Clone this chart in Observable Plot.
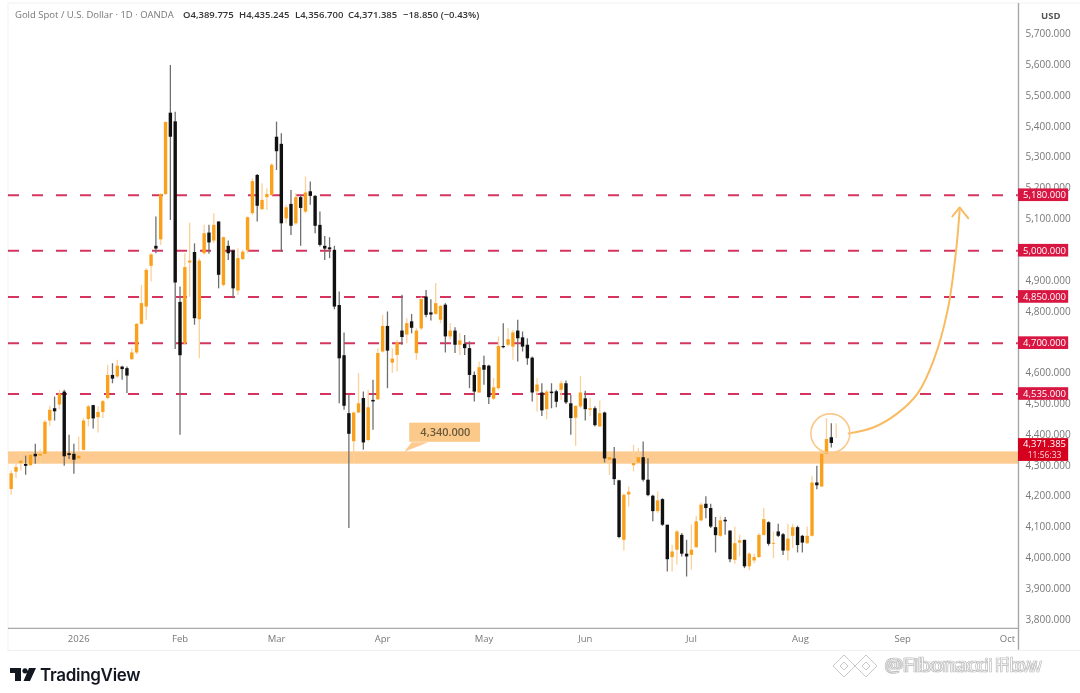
<!DOCTYPE html>
<html><head><meta charset="utf-8">
<script src="https://cdn.jsdelivr.net/npm/d3@7"></script>
<script src="https://cdn.jsdelivr.net/npm/@observablehq/plot@0.6"></script>
<style>
html,body{margin:0;padding:0;background:#fff;overflow:hidden}
#wrap{position:relative;width:1080px;height:693px;filter:blur(.55px)}
#wrap svg{display:block}
.hd{position:absolute;top:8px;font:9.5px/14px "Open Sans",sans-serif;white-space:nowrap;color:#333;font-weight:600}
.hd.g{color:#777;font-weight:400}
#logoT{position:absolute;left:40px;top:663px;font:600 17px/25px Inter,sans-serif;color:#131722;letter-spacing:-.3px}
.wm{position:absolute;left:884px;top:653px;font:20px/24px "Open Sans",sans-serif;color:#fff;-webkit-text-stroke:.7px #bbb;white-space:nowrap}
#logoI,#wmI{position:absolute}
</style></head><body>
<div id="wrap">
<div id="chart"></div>
<div class="hd g" style="left:15px">Gold Spot / U.S. Dollar · 1D · OANDA</div>
<div class="hd" style="left:183px">O4,389.775</div>
<div class="hd" style="left:239px">H4,435.245</div>
<div class="hd" style="left:295px">L4,356.700</div>
<div class="hd" style="left:348px">C4,371.385</div>
<div class="hd" style="left:403px">−18.850 (−0.43%)</div>
<svg id="logoI" style="left:10px;top:668px" width="26" height="14" viewBox="0 0 26 14"><path d="M0 0H11V13H5V5H0Z M15 5.5a2.6 2.6 0 1 1 0.01 0Z M19 0H26L20 13H13.5Z" fill="#131722"/></svg>
<div id="logoT">TradingView</div>
<svg id="wmI" style="left:830px;top:652px" width="52" height="34" viewBox="0 0 52 34"><g fill="#fff" stroke="#c8c8c8" stroke-width="1"><path d="M14 3 25 14 14 25 3 14Z"/><path d="M36 3 47 14 36 25 25 14Z"/><path d="M14 10 18 14 14 18 10 14Z"/><path d="M36 10 40 14 36 18 32 14Z"/></g></svg>
<div class="wm">@Fibonacci Flow</div>
<div class="wm" style="left:886px;letter-spacing:.2px">@Fibonacci Flow</div>
</div>
<script>
const opens=[4222,4278,4306,4303,4299,4336,4330,4336,4444,4484,
4496,4538,4338,4336,4321,4349,4449,4494,4455,4472,
4517,4592,4587,4619,4614,4643,4665,4758,4814,4946,
5011,5032,5179,5443,5415,4829,4695,4957,4991,4773,
4987,5054,5028,5090,4884,5011,4996,4866,4968,4996,
5117,5241,5130,5169,5176,5365,5342,5100,5147,5084,
5169,5122,5188,5173,5079,5011,5006,4998,4819,4656,
4468,4377,4470,4517,4381,4511,4513,4668,4751,4632,
4657,4736,4723,4766,4663,4743,4846,4795,4790,4771,
4820,4717,4736,4690,4693,4679,4592,4535,4624,4622,
4515,4549,4686,4690,4684,4736,4714,4690,4648,4539,
4535,4481,4538,4539,4544,4565,4500,4453,4490,4516,
4479,4484,4425,4470,4317,4321,4250,4057,4204,4299,
4308,4325,4252,4200,4150,4189,4106,4001,4025,4073,
4012,4008,4033,4120,4174,4160,4098,4070,4122,4087,
3992,4048,4057,3971,3990,4001,4073,4114,4044,4084,
4075,4022,4070,4098,4070,4046,4070,4243,4230,4336,
4389.775,4410];
const highs=[4282,4317,4344,4330,4344,4369,4351,4446,4492,4522,
4544,4544,4398,4369,4392,4452,4495,4495,4490,4511,
4625,4630,4641,4622,4619,4679,4760,4884,4938,4987,
5106,5182,5414,5598,5446,4879,4987,5086,5019,4971,
5079,5079,5117,5090,5041,5028,4998,5003,4998,5106,
5230,5244,5214,5198,5279,5414,5376,5144,5192,5182,
5176,5236,5220,5176,5122,5043,5039,5011,4863,4730,
4527,4473,4598,4538,4544,4576,4679,4787,4798,4679,
4706,4852,4776,4790,4744,4846,4868,4838,4890,4819,
4825,4760,4747,4728,4722,4701,4603,4636,4654,4625,
4582,4717,4760,4744,4738,4771,4733,4711,4652,4581,
4565,4544,4565,4544,4574,4574,4527,4492,4589,4541,
4517,4490,4509,4473,4344,4358,4252,4208,4230,4365,
4354,4376,4322,4203,4214,4192,4106,4041,4090,4079,
4057,4106,4135,4178,4198,4174,4131,4133,4131,4087,
4100,4073,4057,4016,4012,4079,4160,4117,4084,4109,
4079,4109,4109,4103,4073,4100,4263,4297,4338,4452,
4435.245,4435];
const lows=[4203,4257,4282,4268,4297,4304,4306,4336,4427,4444,
4481,4297,4319,4271,4308,4347,4425,4418,4405,4452,
4513,4565,4582,4576,4533,4641,4660,4755,4771,4895,
4987,5014,5176,5095,4676,4398,4690,4846,4755,4646,
4982,4985,5019,4873,4879,4965,4841,4852,4965,4987,
5111,5090,5127,5127,5173,5257,4992,5084,5046,5079,
5011,5117,5144,5052,5009,4965,4971,4805,4500,4479,
4095,4306,4468,4349,4376,4414,4511,4665,4549,4598,
4603,4690,4695,4727,4641,4738,4779,4769,4787,4760,
4665,4706,4663,4657,4657,4549,4506,4533,4560,4498,
4511,4544,4679,4684,4641,4636,4668,4625,4506,4473,
4459,4448,4484,4487,4511,4498,4398,4362,4484,4444,
4459,4425,4423,4308,4268,4235,4062,4022,4165,4279,
4306,4246,4198,4117,4144,4102,3954,3954,3976,4003,
3938,3960,4030,4117,4127,4095,4016,4066,4073,3984,
3979,4003,3965,3958,3981,3998,4070,4038,3998,4066,
4008,3990,4030,4016,4016,4044,4068,4221,4228,4333,
4356.7,4387];
const closes=[4273,4293,4314,4297,4333,4328,4336,4440,4479,4474,
4531,4328,4332,4317,4330,4444,4490,4451,4472,4507,
4592,4580,4622,4611,4590,4665,4758,4825,4933,4983,
5002,5179,5413,5365,4892,4656,4942,4963,4776,4963,
5052,5022,5079,4917,5039,4987,4873,4971,4992,5104,
5221,5141,5160,5179,5274,5318,5084,5136,5076,5169,
5134,5184,5173,5076,5014,5002,5000,4814,4646,4492,
4401,4470,4500,4373,4487,4506,4663,4751,4671,4645,
4697,4715,4760,4745,4736,4838,4787,4788,4825,4816,
4717,4736,4690,4704,4679,4592,4538,4617,4609,4520,
4552,4686,4682,4708,4730,4711,4684,4646,4535,4561,
4477,4538,4533,4505,4565,4503,4452,4492,4535,4481,
4484,4429,4468,4321,4325,4254,4066,4203,4213,4306,
4325,4252,4202,4150,4185,4106,3994,4019,4084,4012,
4003,4025,4117,4171,4160,4100,4072,4120,4117,3994,
4046,4055,3971,4012,4001,4073,4124,4044,4047,4070,
4022,4061,4098,4040,4048,4070,4243,4234,4336,4384,
4371.385,4410];

const monthTicks=[14,35,55,77,98,119,141,163.6,184.8,206.5];
const monthLabels=["2026","Feb","Mar","Apr","May","Jun","Jul","Aug","Sep","Oct"];
const priceTicks=[3800,3900,4000,4100,4200,4300,4400,4500,4600,4800,4900,5100,5200,5300,5400,5500,5600,5700];
const levels=[5180,5000,4850,4700,4535];
const levelLabels=["5,180.000","5,000.000","4,850.000","4,700.000","4,535.000"];
const supportLow=4304, supportHigh=4344, supportValue=4340;
const lastPrice="4,371.385", countdown="11:56:33";
const arrowK=[173.6,178.8,183.7,187.9,191.2,194.1,195.8,196.6];
const arrowV=[4404,4424,4469,4534,4641,4803,4988,5128];
const headK=[195.1,196.6,198.4];
const headV=[5108,5137,5102];
const calloutK=[83,86.5,81.5];
const calloutV=[4375,4375,4344];

const ORANGE="#f9a11c", BLACK="#111", WICK_O="#fbd09a", WICK_B="#6f6f6f", BAND="#fdcb8f", RED="#d81642";
const candles=opens.map((o,i)=>({i,o,h:highs[i],l:lows[i],c:closes[i],up:closes[i]>=o}));
const xMin=-0.553,xMax=208.8,labL=208.8,labR=219.2,labC=214.2;

const chart=Plot.plot({
  width:1080,height:693,
  marginLeft:8,marginRight:62,marginTop:3,marginBottom:65,
  style:{fontFamily:'"Open Sans",sans-serif',background:"#fff",overflow:"visible"},
  x:{domain:[xMin,xMax],range:[8,1018]},
  y:{domain:[3800,5700],range:[619,33.5]},
  marks:[
    Plot.rect([0],{x1:xMin,x2:222,y1:3698,y2:5799,stroke:"#f1f1f1",fill:"none",strokeWidth:1}),
    Plot.rect([0],{x1:xMin,x2:xMax,y1:supportLow,y2:supportHigh,fill:BAND}),
    Plot.ruleY(levels,{stroke:"#d6345f",strokeWidth:2,strokeDasharray:"11 13",dy:1}),
    Plot.ruleX(candles,{x:"i",y1:"l",y2:"h",stroke:d=>d.up?WICK_O:WICK_B,strokeWidth:1.3}),
    Plot.ruleX(candles,{x:"i",y1:"o",y2:"c",stroke:d=>d.up?ORANGE:BLACK,strokeWidth:3.4}),
    Plot.line(arrowK.map((k,i)=>({k,v:arrowV[i]})),{x:"k",y:"v",curve:"catmull-rom",stroke:"#f9bb62",strokeWidth:2}),
    Plot.line(headK.map((k,i)=>({k,v:headV[i]})),{x:"k",y:"v",stroke:"#f9bb62",strokeWidth:2}),
    Plot.dot([0],{x:169.8,y:4404,r:19.5,stroke:"#f9c98c",strokeWidth:1.6,fill:"none"}),
    Plot.line(calloutK.map((k,i)=>({k,v:calloutV[i]})),{x:"k",y:"v",fill:BAND,stroke:"none"}),
    Plot.rect([0],{x1:82.6,x2:97.3,y1:4375,y2:4437,fill:"#fbc98a"}),
    Plot.text([supportValue],{x:90,y:4406,text:d=>d3.format(",.3f")(d),fill:"#6a5a3c",fontSize:11,fontWeight:600}),
    Plot.axisX(monthTicks,{anchor:"bottom",tickSize:0,tickPadding:7,fontSize:9.5,fontWeight:500,stroke:"none",fill:"#777",label:null,tickFormat:d=>monthLabels[monthTicks.indexOf(d)]}),
    Plot.axisY(priceTicks,{anchor:"right",tickSize:0,tickPadding:7,fontSize:10,fill:"#777",label:null,tickFormat:d3.format(",.3f")}),
    Plot.ruleY([3771.5],{stroke:"#a8a8a8",strokeWidth:1.2}),
    Plot.ruleX([xMax],{y1:3700,y2:5799,stroke:"#a8a8a8",strokeWidth:1.4}),
    Plot.text(["USD"],{x:215.5,y:5757,text:d=>d,fontSize:9.5,fontWeight:700,fill:"#555"}),
    Plot.rect(levels,{x1:labL,x2:labR,y1:d=>d-20.5,y2:d=>d+20.5,fill:RED,dy:1}),
    Plot.text(levelLabels,{x:labC,y:(d,i)=>levels[i],text:d=>d,fill:"#fff",fontSize:9.5,dy:1}),
    Plot.rect([0],{x1:labL,x2:labR,y1:4313,y2:4387,fill:"#d4001e"}),
    Plot.text([lastPrice],{x:labC,y:4369,text:d=>d,fill:"#fff",fontSize:9.5}),
    Plot.text([countdown],{x:labC,y:4333,text:d=>d,fill:"#ffd9d9",fontSize:8.5})
  ]
});
document.getElementById("chart").append(chart);
</script>
</body></html>
